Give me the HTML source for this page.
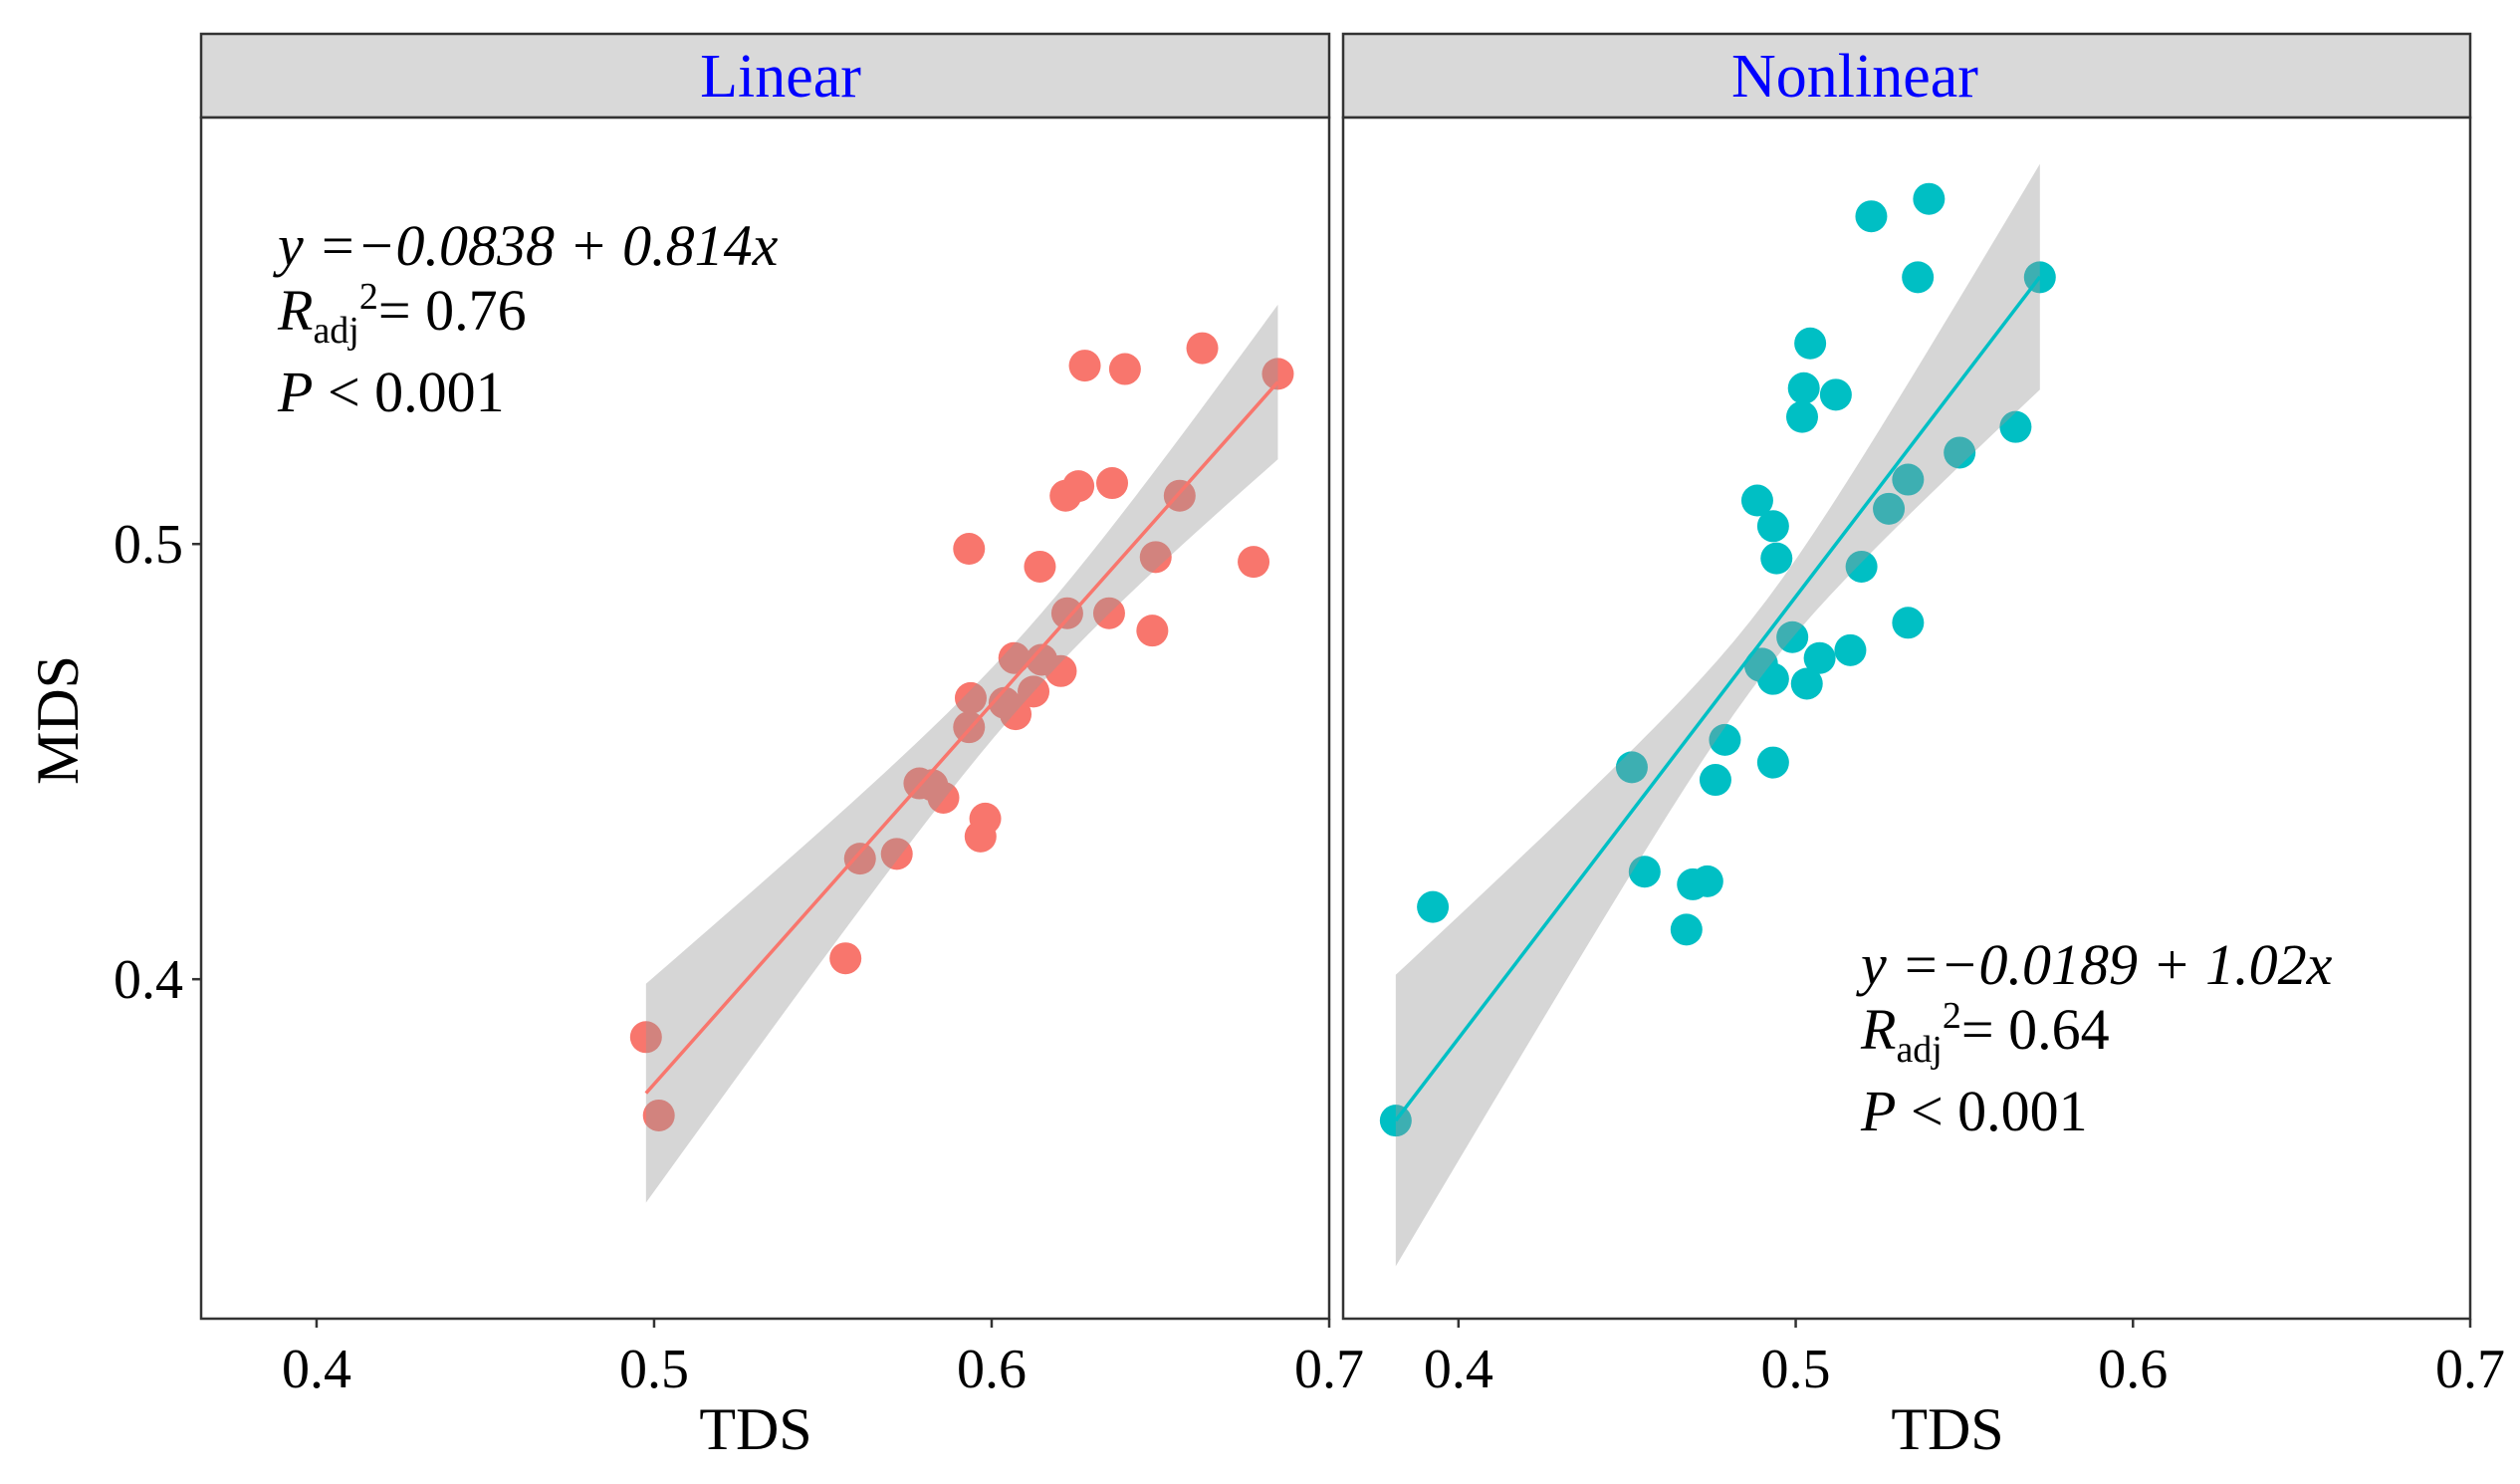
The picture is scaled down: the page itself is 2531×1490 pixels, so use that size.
<!DOCTYPE html>
<html><head><meta charset="utf-8">
<style>
html,body{margin:0;padding:0;background:#fff;}
svg{display:block;font-family:"Liberation Serif",serif;}
</style></head>
<body>
<svg id="chart" width="2531" height="1490" viewBox="0 0 2531 1490" xmlns="http://www.w3.org/2000/svg">
  <g id="gL"></g>
  <g id="gR"></g>
  <g>
    <text x="0" y="0" transform="translate(78,723) rotate(-90)" text-anchor="middle" font-size="60">MDS</text>
    <text x="759" y="1455" text-anchor="middle" font-size="60">TDS</text>
    <text x="1956" y="1455" text-anchor="middle" font-size="60">TDS</text>
  </g>
</svg>
<script>
// ---- data ----
const xTicks = [0.4, 0.5, 0.6, 0.7];
const yTicks = [0.4, 0.5];
const linX = [0.4976,0.5014,0.5567,0.5610,0.5719,0.5786,0.5857,0.5981,0.5967,0.5933,0.5938,0.5933,0.6038,0.6071,0.6124,0.6067,0.6148,0.6205,0.6143,0.6224,0.6348,0.6476,0.6486,0.6219,0.6257,0.6357,0.6557,0.6276,0.6395,0.6624,0.6776,0.6848,0.5824];
const linY = [0.3867,0.3687,0.4048,0.4277,0.4288,0.4450,0.4417,0.4369,0.4328,0.4579,0.4646,0.4989,0.4635,0.4609,0.4661,0.4738,0.4734,0.4708,0.4948,0.4841,0.4841,0.4801,0.4970,0.5111,0.5133,0.5140,0.5111,0.5410,0.5402,0.5450,0.4959,0.5391,0.4446];
const nonX = [0.3814,0.3924,0.4514,0.4552,0.4676,0.4695,0.4738,0.4762,0.4790,0.4895,0.4933,0.4933,0.4990,0.5033,0.5071,0.5162,0.4943,0.4933,0.4886,0.5195,0.5276,0.5333,0.5333,0.5486,0.5652,0.5019,0.5024,0.5119,0.5043,0.5362,0.5724,0.5224,0.5395,0.4900];
const nonY = [0.3675,0.4166,0.4487,0.4247,0.4114,0.4218,0.4225,0.4458,0.4550,0.4720,0.4690,0.4498,0.4786,0.4679,0.4738,0.4756,0.4967,0.5041,0.5100,0.4948,0.5081,0.5148,0.4819,0.5210,0.5269,0.5292,0.5358,0.5343,0.5461,0.5613,0.5613,0.5753,0.5793,0.4725];
// fit: [intercept, slope], ribbon: [centerX, minHalfWidth, k2]
const linFit = [-0.0606, 0.873];
const linBand = [0.61, 0.008, 0.0450];
const nonFit = [-0.0196, 1.015];
const nonBand = [0.49, 0.008, 0.0896];

const NS = "http://www.w3.org/2000/svg";
const XMIN = 0.3658, XMAX = 0.7;
const YMIN = 0.322, YMAX = 0.598;
const TOP = 118, BOT = 1324;
function mk(tag, attrs, parent){ const e=document.createElementNS(NS,tag); for(const k in attrs) e.setAttribute(k,attrs[k]); parent.appendChild(e); return e; }

function panel(g, L, R, xs, ys, fit, band, color, title, titleX, eq, r2, ax, ay, showY){
  const sx = v => L + (v - XMIN) / (XMAX - XMIN) * (R - L);
  const sy = v => BOT - (v - YMIN) / (YMAX - YMIN) * (BOT - TOP);
  const strip = mk('rect',{x:L,y:34,width:R-L,height:TOP-34,fill:'#d9d9d9',stroke:'#333','stroke-width':2.5},g);
  
  
  const st = mk('text',{x:titleX,y:97,'text-anchor':'middle','font-size':62,fill:'#0000ff'},g);
  st.textContent = title;
  
  
  const bg = mk('rect',{x:L,y:TOP,width:R-L,height:BOT-TOP,fill:'#fff',stroke:'#333','stroke-width':2.5},g);
  
  
  for(let i=0;i<xs.length;i++){
    const c = mk('circle',{cx:sx(xs[i]),cy:sy(ys[i]),r:16,fill:color},g);
    
    
  }
  const x0 = Math.min(...xs), x1 = Math.max(...xs);
  const up=[], lo=[];
  for(let i=0;i<=40;i++){
    const x = x0 + (x1-x0)*i/40;
    const yv = fit[0] + fit[1]*x;
    const hw = Math.sqrt(band[1]*band[1] + band[2]*(x-band[0])*(x-band[0]));
    up.push(sx(x)+','+sy(yv+hw)); lo.unshift(sx(x)+','+sy(yv-hw));
  }
  const rib = mk('polygon',{points:up.concat(lo).join(' '),fill:'#999999','fill-opacity':0.4},g);
  
  
  const ln = mk('line',{x1:sx(x0),y1:sy(fit[0]+fit[1]*x0),x2:sx(x1),y2:sy(fit[0]+fit[1]*x1),stroke:color,'stroke-width':3.5},g);
  
  
  xTicks.forEach(t=>{
    const tk = mk('line',{x1:sx(t),x2:sx(t),y1:BOT,y2:BOT+9,stroke:'#333','stroke-width':2.5},g);
    
    
    const tl = mk('text',{x:sx(t),y:1393,'text-anchor':'middle','font-size':56},g);
    tl.textContent = t.toFixed(1);
    
    
  });
  if(showY){
    yTicks.forEach(t=>{
      const tk = mk('line',{x1:L-9,x2:L,y1:sy(t),y2:sy(t),stroke:'#333','stroke-width':2.5},g);
      
      
      const tl = mk('text',{x:L-18,y:sy(t)+19,'text-anchor':'end','font-size':56},g);
      tl.textContent = t.toFixed(1);
      
      
    });
  }
  const a1 = mk('text',{x:ax,y:ay,'font-size':58,'font-style':'italic'},g);
  a1.textContent = eq;
  
  
  const a2 = mk('text',{x:ax,y:ay+65,'font-size':58},g);
  a2.innerHTML = '<tspan font-style="italic">R</tspan><tspan font-size="38" dy="13">adj</tspan><tspan font-size="38" dy="-34">2</tspan><tspan dy="21">= ' + r2 + '</tspan>';
  
  
  const a3 = mk('text',{x:ax,y:ay+147,'font-size':58},g);
  a3.innerHTML = '<tspan font-style="italic">P</tspan> &lt; 0.001';
  
  
}
panel(document.getElementById('gL'), 202, 1335, linX, linY, linFit, linBand, '#F8766D', 'Linear', 784, 'y =\u22120.0838 + 0.814x', '0.76', 279, 266, true);
panel(document.getElementById('gR'), 1349, 2481, nonX, nonY, nonFit, nonBand, '#00BFC4', 'Nonlinear', 1863, 'y =\u22120.0189 + 1.02x', '0.64', 1869, 988, false);
</script>
</body></html>
